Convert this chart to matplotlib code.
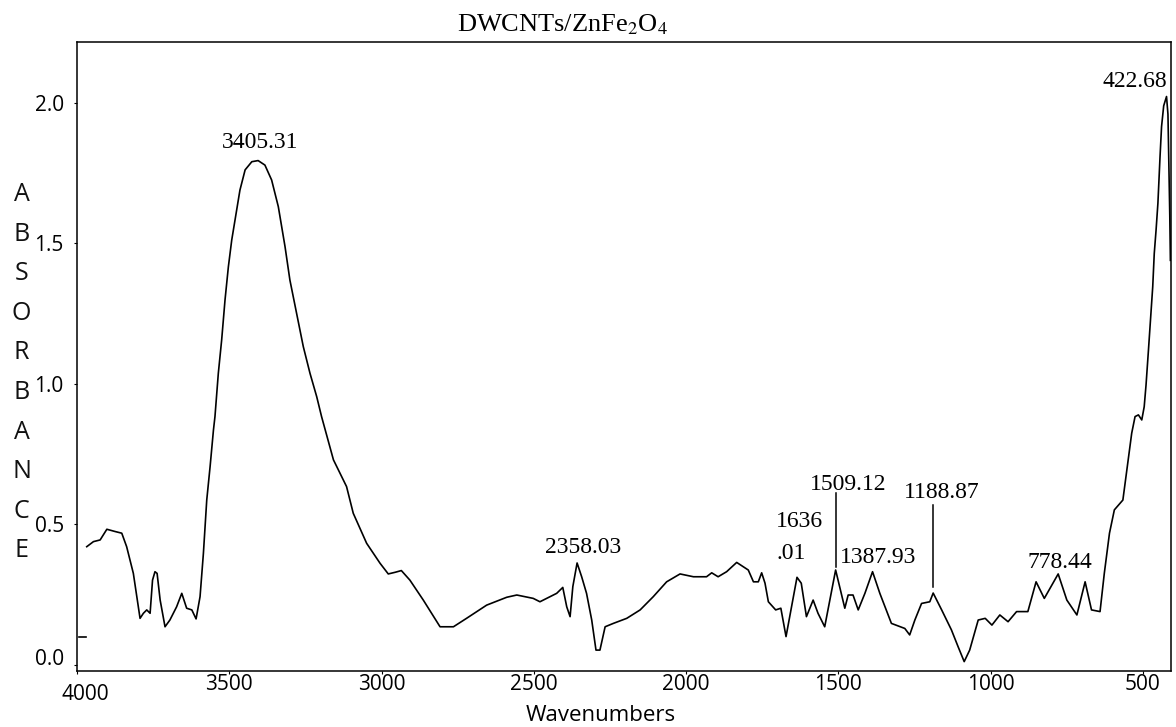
import matplotlib
matplotlib.use('Agg')
import matplotlib.pyplot as plt
import matplotlib.transforms as mtransforms
import numpy as np

plt.rcParams['font.family'] = 'Open Sans'
plt.rcParams['mathtext.fontset'] = 'stix'

# FTIR spectrum, wavenumber (cm-1) descending
wavenumber = [3968, 3946, 3924, 3902, 3875, 3853, 3837, 3815, 3793, 3782,
              3771, 3760, 3752, 3744, 3737, 3727, 3711, 3695, 3673, 3656,
              3640, 3623, 3609, 3596, 3585, 3574, 3563, 3552, 3547, 3536,
              3525, 3514, 3503, 3492, 3481, 3465, 3448, 3426, 3405.31, 3383,
              3361, 3339, 3317, 3301, 3279, 3257, 3235, 3213, 3197, 3158,
              3115, 3093, 3049, 3005, 2978, 2955, 2935, 2907, 2863, 2808,
              2764, 2721, 2655, 2589, 2556, 2502, 2480, 2458, 2425, 2405,
              2392, 2381, 2372, 2358.03, 2343, 2327, 2310, 2296, 2283, 2266,
              2239, 2195, 2151, 2108, 2064, 2020, 1976, 1933, 1916, 1895,
              1867, 1834, 1796, 1779, 1763, 1752, 1741, 1730, 1706, 1689,
              1672, 1650, 1636.01, 1622, 1605, 1583, 1567, 1545, 1528, 1509.12,
              1496, 1479, 1468, 1452, 1435, 1413, 1387.93, 1364, 1326, 1282,
              1266, 1249, 1227, 1200, 1188.87, 1161, 1129, 1107, 1087, 1069,
              1041, 1018, 996, 970, 943, 915, 878, 851, 824, 778.44,
              750, 717, 690, 669, 641, 627, 610, 594, 566, 545,
              537, 526, 515, 504, 496, 490, 482, 474, 468, 463,
              457, 451, 444, 439, 432, 422.68, 418, 415, 412, 410]
absorbance = [0.421, 0.439, 0.445, 0.483, 0.475, 0.469, 0.421, 0.326, 0.166, 0.184,
              0.196, 0.184, 0.302, 0.332, 0.326, 0.231, 0.136, 0.160, 0.207, 0.255,
              0.202, 0.196, 0.164, 0.243, 0.397, 0.587, 0.706, 0.836, 0.884, 1.038,
              1.157, 1.299, 1.417, 1.512, 1.584, 1.690, 1.762, 1.791, 1.795, 1.779,
              1.726, 1.631, 1.489, 1.370, 1.252, 1.133, 1.038, 0.955, 0.884, 0.730,
              0.635, 0.540, 0.433, 0.362, 0.324, 0.330, 0.336, 0.302, 0.231, 0.136,
              0.136, 0.166, 0.213, 0.241, 0.249, 0.237, 0.225, 0.237, 0.255, 0.276,
              0.207, 0.172, 0.279, 0.363, 0.314, 0.255, 0.160, 0.053, 0.053, 0.136,
              0.148, 0.166, 0.196, 0.243, 0.296, 0.324, 0.314, 0.314, 0.328, 0.314,
              0.332, 0.365, 0.338, 0.296, 0.296, 0.328, 0.291, 0.225, 0.196, 0.202,
              0.101, 0.231, 0.312, 0.291, 0.172, 0.231, 0.184, 0.136, 0.231, 0.338,
              0.279, 0.202, 0.249, 0.249, 0.196, 0.255, 0.332, 0.255, 0.148, 0.130,
              0.107, 0.160, 0.219, 0.225, 0.256, 0.196, 0.125, 0.065, 0.012, 0.053,
              0.160, 0.166, 0.142, 0.178, 0.154, 0.190, 0.190, 0.296, 0.237, 0.324,
              0.231, 0.178, 0.296, 0.196, 0.190, 0.326, 0.469, 0.552, 0.587, 0.760,
              0.825, 0.884, 0.890, 0.872, 0.919, 0.996, 1.121, 1.252, 1.346, 1.464,
              1.548, 1.643, 1.809, 1.916, 1.990, 2.023, 1.960, 1.786, 1.600, 1.440]

# short stray piece of trace at the left edge
stub_wn = [3993, 3971]
stub_abs = [0.100, 0.100]

peak_wn = [3405.31, 2358.03, 1636.01, 1509.12, 1387.93, 1188.87, 778.44, 422.68]
peak_text = ['3405.31', '2358.03', '1636', '1509.12', '1387.93', '1188.87', '778.44', '422.68']
# label offsets from the peak in pixels, and horizontal alignment
label_dx = [2, 6, -21.5, 13, 6, 9, 2, 0.5]
label_dy = [13, 10, 50, 80, 8.5, 95, 6, 10]
label_ha = ['center', 'center', 'left', 'center', 'center', 'center', 'center', 'right']
# leader lines (offsets above the peak in absorbance units)
leader_peaks = [1509.12, 1188.87]
leader_lo = [0.011, 0.022]
leader_hi = [0.274, 0.313]

xticks = [4000, 3500, 3000, 2500, 2000, 1500, 1000, 500]
yticks = [0.0, 0.5, 1.0, 1.5, 2.0]

fig = plt.figure(figsize=(11.76, 7.27), dpi=100)
ax = fig.add_axes([77 / 1176, 56 / 727, 1094 / 1176, 629 / 727])

ax.plot(wavenumber, absorbance, color='black', lw=1.2)
ax.plot(stub_wn, stub_abs, color='black', lw=1.2)

ax.set_xlim(4000, 408)
ax.set_ylim(-0.0214, 2.217)
ax.set_xticks(xticks)
ax.set_xticklabels([str(t) for t in xticks])
ax.set_yticks(yticks)
ax.set_yticklabels(['%.1f' % t for t in yticks])
ax.tick_params(axis='both', length=2.5, width=0.8, labelsize=15, colors='black')
ax.tick_params(axis='x', pad=0)
ax.tick_params(axis='y', pad=7)
for s in ax.spines.values():
    s.set_linewidth(1.1)

# the first x tick label sits a little lower and to the right,
# the first y tick label a little higher
lab0 = ax.get_xticklabels()[0]
lab0.set_transform(lab0.get_transform() +
                   mtransforms.ScaledTranslation(6 / 72, -7 / 72, fig.dpi_scale_trans))
ylab0 = ax.get_yticklabels()[0]
ylab0.set_transform(ylab0.get_transform() +
                    mtransforms.ScaledTranslation(0, 6 / 72, fig.dpi_scale_trans))

wn_asc = np.array(wavenumber)[::-1]
ab_asc = np.array(absorbance)[::-1]

serif = 'Liberation Serif'
for wn, txt, dx, dy, ha in zip(peak_wn, peak_text, label_dx, label_dy, label_ha):
    a = np.interp(wn, wn_asc, ab_asc)
    ax.annotate(txt, xy=(wn, a), xytext=(dx, dy), textcoords='offset pixels',
                ha=ha, va='baseline', fontsize=17, family=serif)
    if txt == '1636':
        ax.annotate('.01', xy=(wn, a), xytext=(dx + 1, dy - 31.6),
                    textcoords='offset pixels', ha='left', va='baseline',
                    fontsize=17, family=serif)

for wn, lo, hi in zip(leader_peaks, leader_lo, leader_hi):
    a = np.interp(wn, wn_asc, ab_asc)
    ax.plot([wn, wn], [a + lo, a + hi], color='black', lw=1.1)

fig.text(563 / 1176, 1 - 31 / 727, r'DWCNTs/ZnFe$_2$O$_4$', ha='center',
         va='baseline', fontsize=19, family=serif)

# vertical stacked axis title
for i, ch in enumerate('ABSORBANCE'):
    fig.text(21.5 / 1176, 1 - (201 + 39.6 * i) / 727, ch, ha='center',
             va='baseline', fontsize=18, color='#111111')

fig.text(601 / 1176, 6 / 727, 'Wavenumbers', ha='center', va='baseline',
         fontsize=16)

fig.savefig('out.png', dpi=100)
